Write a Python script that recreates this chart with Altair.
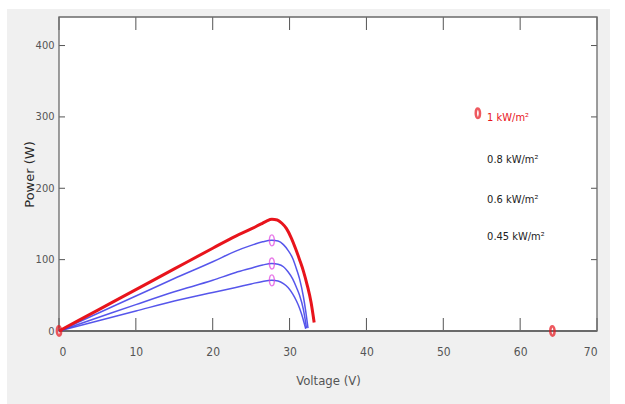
import altair as alt
import pandas as pd

# ---- data ----
v_1000 = [0, 5, 10, 15, 20, 23, 25, 26.3, 27, 27.7, 28.4, 29, 29.6, 30.2, 30.8, 31.3, 31.8, 32.3, 32.8, 33.2]
p_1000 = [0, 29, 58, 87, 116, 133, 143, 150, 154, 156.5, 155.5, 151, 143.5, 131, 115, 100, 84, 64, 40, 12]

v_800 = [0, 5, 10, 15, 20, 23, 25, 26.5, 27.7, 28.5, 29.2, 29.8, 30.4, 30.9, 31.3, 31.8, 32.1, 32.4]
p_800 = [0, 24.5, 49, 73.5, 97, 112, 120, 125, 127, 126, 121, 113, 102, 87, 73, 48, 28, 4]

v_600 = [0, 5, 10, 15, 20, 23, 25, 26.5, 27.7, 28.5, 29.2, 29.8, 30.4, 30.9, 31.3, 31.8, 32.0, 32.2]
p_600 = [0, 18.5, 37, 55, 71, 82, 88, 92.5, 94.6, 93.5, 90, 83, 73, 61, 50, 30, 18, 4]

v_450 = [0, 5, 10, 15, 20, 23, 25, 26.5, 27.7, 28.5, 29.2, 29.8, 30.4, 30.9, 31.3, 31.7, 31.9, 32.1]
p_450 = [0, 14, 28, 42, 54, 61, 66, 69.5, 71, 70, 66.5, 61, 52, 42, 32, 19, 11, 3]

mpp_v = [27.7, 27.7, 27.7]
mpp_p = [127, 94.6, 71]

red_mark_v = [0, 64.2, 54.5]
red_mark_p = [0, 0, 305]

label_text = ["1 kW/m²", "0.8 kW/m²", "0.6 kW/m²", "0.45 kW/m²"]
label_v = [55.7, 55.7, 55.7, 55.7]
label_p = [298, 239, 183, 132]
label_color = ["#e8141c", "#222222", "#222222", "#222222"]

x_ticks = [0, 10, 20, 30, 40, 50, 60, 70]
y_ticks = [0, 100, 200, 300, 400]

W, H = 538, 314
NARROW = "'Liberation Sans Narrow', 'DejaVu Sans Condensed', 'Roboto Condensed', 'Liberation Sans', sans-serif"

# ---- tables ----
curves = []
for name, vs, ps in [("1.0", v_1000, p_1000), ("0.8", v_800, p_800),
                     ("0.6", v_600, p_600), ("0.45", v_450, p_450)]:
    for i, (v, p) in enumerate(zip(vs, ps)):
        curves.append({"series": name, "V": v, "P": p, "o": i})
curves = pd.DataFrame(curves)
red_df = curves[curves.series == "1.0"]
blue_df = curves[curves.series != "1.0"]
mpp_df = pd.DataFrame({"V": mpp_v, "P": mpp_p})
redm_df = pd.DataFrame({"V": red_mark_v, "P": red_mark_p})
lab_df = pd.DataFrame({"t": label_text, "V": label_v, "P": label_p, "c": label_color})
xt_df = pd.DataFrame({"V": x_ticks})
yt_df = pd.DataFrame({"P": y_ticks})
one = pd.DataFrame({"a": [0]})

xs = alt.Scale(domain=[0, 70], nice=False, zero=False)
ys = alt.Scale(domain=[0, 440], nice=False, zero=False)

x_axis = alt.Axis(values=x_ticks, domain=False, ticks=False, grid=False,
                  labelFont=NARROW, labelFontSize=12, labelColor="#555555",
                  labelPadding=15, title="Voltage (V)", titleFont=NARROW,
                  titleFontSize=13, titleFontWeight="normal", titleColor="#555555",
                  titleX=W / 2, titleY=49, titleBaseline="middle", zindex=2)
y_axis = alt.Axis(values=y_ticks, domain=False, ticks=False, grid=False,
                  labelFont=NARROW, labelFontSize=11, labelColor="#555555",
                  labelPadding=5, title="Power (W)", titleFont="DejaVu Sans",
                  titleFontSize=13, titleFontWeight="normal", titleColor="#2a2a2a",
                  titleX=-30, titleY=157, titleAngle=-90, titleAlign="center",
                  titleBaseline="middle", zindex=2)

gray_bg = alt.Chart(one).mark_rect(color="#f0f0f0", clip=False).encode(
    x=alt.value(-52), x2=alt.value(551), y=alt.value(-8), y2=alt.value(387))
white_bg = alt.Chart(one).mark_rect(color="white").encode(
    x=alt.value(0), x2=alt.value(W), y=alt.value(0), y2=alt.value(H))

blue = alt.Chart(blue_df).mark_line(color="#3838e8", strokeWidth=1.5, opacity=0.85,
                                     interpolate="monotone").encode(
    x=alt.X("V:Q", scale=xs, axis=x_axis),
    y=alt.Y("P:Q", scale=ys, axis=y_axis),
    detail="series:N", order="o:Q")
red = alt.Chart(red_df).mark_line(color="#e8141c", strokeWidth=3,
                                   interpolate="monotone").encode(
    x=alt.X("V:Q", scale=xs), y=alt.Y("P:Q", scale=ys), order="o:Q")

ell = "M0,-1A0.45,1 0 1,1 0,1A0.45,1 0 1,1 0,-1Z"
mpp = alt.Chart(mpp_df).mark_point(shape=ell, size=121, color="#e040e0",
                                    strokeWidth=1.4, filled=False).encode(
    x=alt.X("V:Q", scale=xs), y=alt.Y("P:Q", scale=ys))
redm = alt.Chart(redm_df).mark_point(shape=ell, size=90, color="#e8141c",
                                      strokeWidth=2.5, filled=False, clip=False).encode(
    x=alt.X("V:Q", scale=xs), y=alt.Y("P:Q", scale=ys))

labels = alt.Chart(lab_df).mark_text(font=NARROW, fontSize=11, align="left",
                                      baseline="middle").encode(
    x=alt.X("V:Q", scale=xs), y=alt.Y("P:Q", scale=ys), text="t:N",
    color=alt.Color("c:N", scale=None))

tick_col = "#555555"
xt_bot = alt.Chart(xt_df).mark_rule(color=tick_col, strokeWidth=1).encode(
    x=alt.X("V:Q", scale=xs), y=alt.value(H), y2=alt.value(H - 13))
xt_top = alt.Chart(xt_df).mark_rule(color=tick_col, strokeWidth=1).encode(
    x=alt.X("V:Q", scale=xs), y=alt.value(0), y2=alt.value(13))
yt_l = alt.Chart(yt_df).mark_rule(color=tick_col, strokeWidth=1).encode(
    y=alt.Y("P:Q", scale=ys), x=alt.value(0), x2=alt.value(6))
yt_r = alt.Chart(yt_df).mark_rule(color=tick_col, strokeWidth=1).encode(
    y=alt.Y("P:Q", scale=ys), x=alt.value(W - 6), x2=alt.value(W))

frame = alt.Chart(one).mark_rect(fillOpacity=0, stroke="#6a6a6a", strokeWidth=1.3).encode(
    x=alt.value(0), x2=alt.value(W), y=alt.value(0), y2=alt.value(H))
bottom = alt.Chart(one).mark_rule(color="#6a6a6a", strokeWidth=2).encode(
    x=alt.value(0), x2=alt.value(W), y=alt.value(H))

chart = alt.layer(
    gray_bg, white_bg, xt_bot, xt_top, yt_l, yt_r, frame, bottom,
    blue, red, mpp, redm, labels
).properties(
    width=W, height=H,
    autosize=alt.AutoSizeParams(type="none"),
    padding={"left": 59, "top": 17, "right": 28, "bottom": 73},
    background="white",
).configure_view(stroke=None)

chart.save("out.html", embed_options={"renderer": "svg", "actions": False})
